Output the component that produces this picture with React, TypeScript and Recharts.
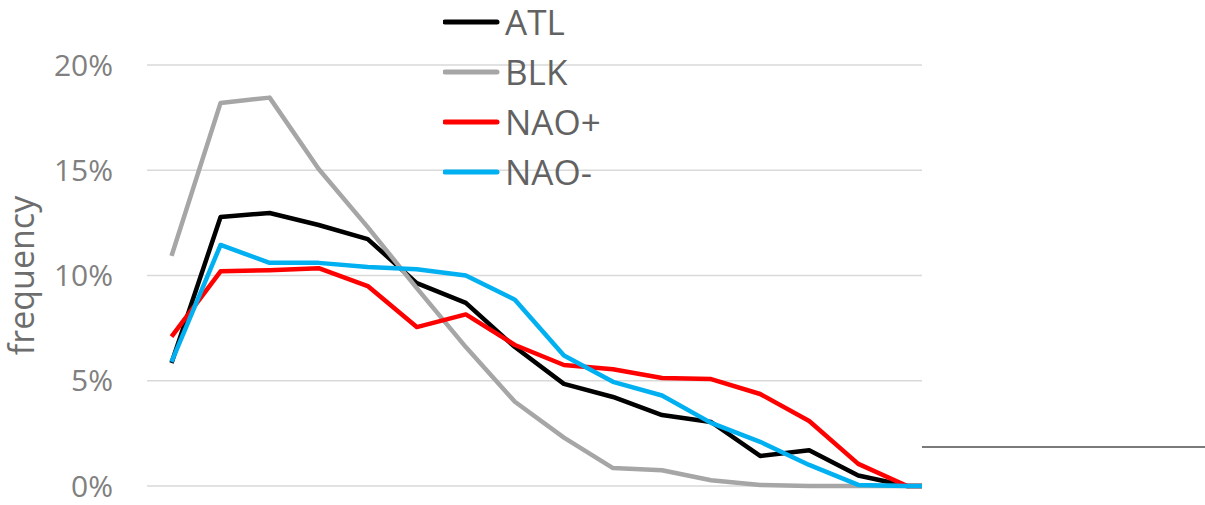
import React from "react";
import { CartesianGrid, Line, LineChart, XAxis, YAxis } from "recharts";

// bin positions (last bin is narrower, ends at the plot edge)
const bins = [0, 1, 2, 3, 4, 5, 6, 7, 8, 9, 10, 11, 12, 13, 14, 15, 15.3];

// frequency in %
const atl = [5.84, 12.78, 12.97, 12.4, 11.73, 9.64, 8.7, 6.6, 4.85, 4.23, 3.37, 3.04, 1.43, 1.7, 0.5, 0, 0];
const blk = [10.93, 18.2, 18.45, 15.06, 12.3, 9.4, 6.6, 4.0, 2.3, 0.85, 0.75, 0.27, 0.05, 0, 0, 0, 0];
const naoPlus = [7.1, 10.2, 10.25, 10.35, 9.5, 7.55, 8.15, 6.7, 5.75, 5.55, 5.13, 5.08, 4.37, 3.09, 1.05, 0, 0];
const naoMinus = [5.9, 11.45, 10.6, 10.6, 10.4, 10.3, 10.0, 8.85, 6.2, 4.95, 4.3, 3.0, 2.1, 1.0, 0.05, 0, 0];

const yTicks = [0, 5, 10, 15, 20];

const series = [
  { key: "ATL", values: atl, color: "#000000" },
  { key: "BLK", values: blk, color: "#a6a6a6" },
  { key: "NAO+", values: naoPlus, color: "#ff0000" },
  { key: "NAO-", values: naoMinus, color: "#00b0f0" }
];

const data = bins.map((x, i) => {
  const row: Record<string, number> = { x };
  series.forEach((s) => {
    row[s.key] = s.values[i];
  });
  return row;
});

const FONT = "'Open Sans', 'Noto Sans', sans-serif";

const Legend = () => (
  <div style={{ position: "absolute", left: 443, top: 0, fontFamily: FONT }}>
    {series.map((s) => (
      <div
        key={s.key}
        style={{ display: "flex", alignItems: "center", height: 50, marginTop: s.key === "ATL" ? -3 : 0 }}
      >
        <svg width={60} height={10}>
          <line x1={2} y1={5} x2={54} y2={5} stroke={s.color} strokeWidth={5} strokeLinecap="round" />
        </svg>
        <span style={{ fontSize: 35, color: "#626262", marginLeft: 2, lineHeight: "50px" }}>{s.key}</span>
      </div>
    ))}
  </div>
);

export default function App() {
  return (
    <div style={{ position: "absolute", left: 0, top: 0, width: 1205, height: 505, background: "#fff" }}>
      <LineChart
        width={1205}
        height={505}
        data={data}
        margin={{ top: 65, right: 283, left: 0, bottom: 19 }}
      >
        <CartesianGrid vertical={false} stroke="#d9d9d9" strokeWidth={1.5} />
        <XAxis dataKey="x" type="number" domain={[-0.5, 15.3]} hide />
        <YAxis
          width={147}
          domain={[0, 20]}
          ticks={yTicks}
          axisLine={false}
          tickLine={false}
          tickSize={0}
          tickMargin={34}
          tickFormatter={(v: number) => `${v}%`}
          tick={{ fontSize: 30, fill: "#808080", fontFamily: FONT }}
          label={(props: any) => {
            const vb = props.viewBox;
            const cx = vb.x + 21;
            const cy = vb.y + vb.height / 2;
            return (
              <text
                x={cx}
                y={cy}
                transform={`rotate(-90, ${cx}, ${cy})`}
                textAnchor="middle"
                dominantBaseline="central"
                fontSize={34}
                fill="#6d6d6d"
                fontFamily={FONT}
              >
                frequency
              </text>
            );
          }}
        />
        {series.map((s) => (
          <Line
            key={s.key}
            dataKey={s.key}
            stroke={s.color}
            strokeWidth={4.5}
            dot={false}
            strokeLinejoin="round"
            isAnimationActive={false}
          />
        ))}
      </LineChart>
      <Legend />
      <div style={{ position: "absolute", left: 922, top: 446, width: 283, height: 2, background: "#7a7a7a" }} />
    </div>
  );
}
